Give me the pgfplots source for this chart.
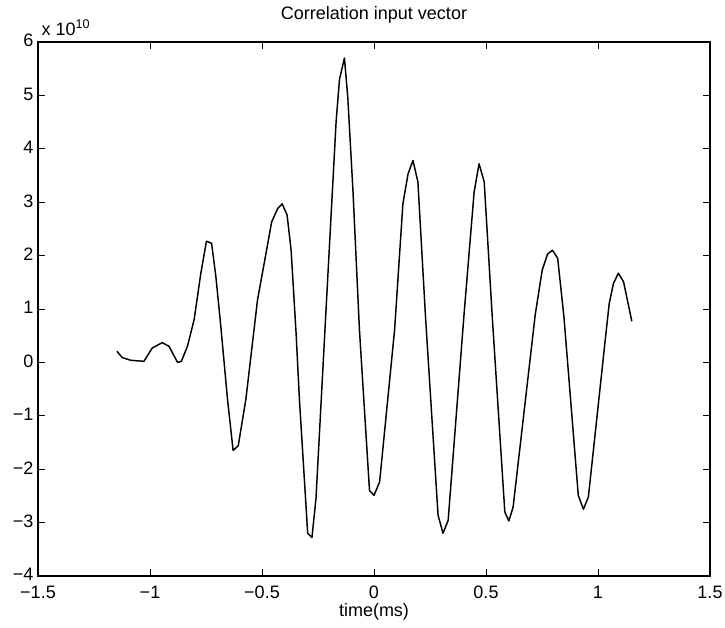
\documentclass[border=0pt]{standalone}
\usepackage{fontspec}
\setmainfont{Liberation Sans}
\usepackage{pgfplots}
\pgfplotsset{compat=1.18}
\pgfplotstableread{
x y
-1.148 0.21
-1.124 0.09
-1.086 0.04
-1.027 0.02
-0.990 0.27
-0.945 0.37
-0.915 0.30
-0.877 0.00
-0.860 0.02
-0.833 0.30
-0.803 0.80
-0.773 1.67
-0.748 2.27
-0.725 2.23
-0.706 1.61
-0.684 0.68
-0.654 -0.69
-0.629 -1.65
-0.606 -1.56
-0.572 -0.69
-0.520 1.17
-0.490 1.86
-0.457 2.63
-0.430 2.88
-0.410 2.97
-0.388 2.76
-0.370 2.10
-0.348 0.56
-0.333 -0.69
-0.296 -3.20
-0.277 -3.28
-0.259 -2.55
-0.221 0.45
-0.169 4.52
-0.154 5.30
-0.132 5.70
-0.117 4.96
-0.094 3.22
-0.065 0.61
-0.020 -2.40
0.000 -2.49
0.025 -2.24
0.092 0.61
0.129 2.97
0.152 3.53
0.174 3.78
0.196 3.38
0.230 0.85
0.286 -2.86
0.308 -3.20
0.331 -2.96
0.402 0.90
0.447 3.19
0.469 3.72
0.492 3.38
0.528 0.85
0.584 -2.80
0.602 -2.97
0.621 -2.71
0.720 0.90
0.751 1.73
0.775 2.03
0.797 2.10
0.820 1.95
0.848 0.85
0.912 -2.49
0.935 -2.75
0.957 -2.52
1.031 0.37
1.050 1.10
1.069 1.48
1.091 1.67
1.114 1.51
1.151 0.77
}\datatable
\begin{document}
\begin{tikzpicture}
\path[use as bounding box] (-28.5pt,-39pt) rectangle (515.25pt,432pt);
\begin{axis}[
  at={(0,0)}, anchor=south west,
  scale only axis, width=504pt, height=400.5pt,
  xmin=-1.5, xmax=1.5, ymin=-4, ymax=6,
  xtick={-1.5,-1,-0.5,0,0.5,1,1.5},
  xticklabels={−1.5,−1,−0.5,0,0.5,1,1.5},
  ytick={-4,-3,-2,-1,0,1,2,3,4,5,6},
  yticklabels={−4,−3,−2,−1,0,1,2,3,4,5,6},
  tick align=inside, major tick length=5pt,
  tick style={black, line width=0.6pt},
  axis line style={line width=0.9pt},
  ticklabel style={font=\fontsize{13.5}{15}\selectfont},
  xticklabel style={yshift=-4pt},
  yticklabel style={xshift=0pt, yshift=1pt},
  title={Correlation input vector},
  title style={font=\fontsize{13.5}{15}\selectfont, at={(0.5,1)}, anchor=base, yshift=10.5pt},
  xlabel={time(ms)},
  xlabel style={font=\fontsize{13.5}{15}\selectfont, at={(0.5,0)}, anchor=base, yshift=-30.5pt},
  clip=false,
]
\addplot[black, line width=1.1pt, line join=round] table[x=x, y=y] {\datatable};
\node[anchor=base west, font=\fontsize{13.5}{15}\selectfont, inner sep=0pt] at (rel axis cs:0,1) [xshift=2.5pt, yshift=4.7pt] {x 10\textsuperscript{10}};
\end{axis}
\end{tikzpicture}
\end{document}
